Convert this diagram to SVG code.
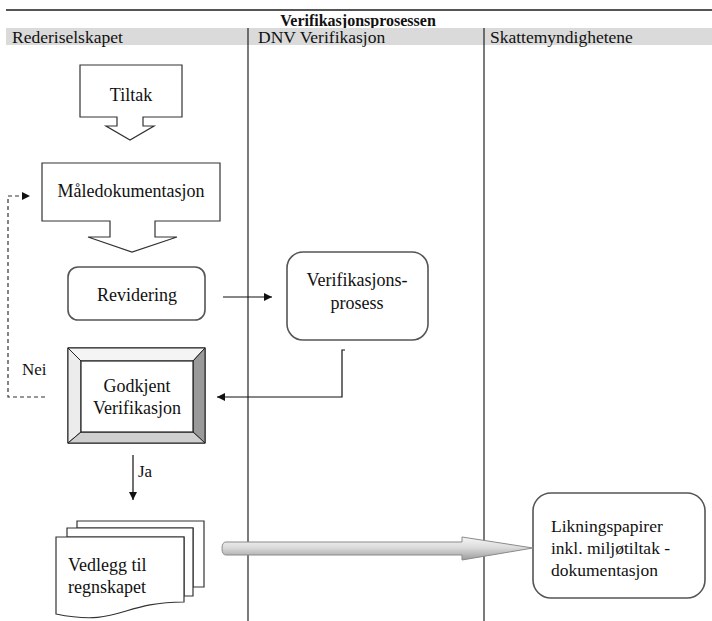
<svg xmlns="http://www.w3.org/2000/svg" width="712" height="621" viewBox="0 0 712 621">
<defs>
<style>
.t{font-family:"Liberation Serif","Times New Roman",serif;font-size:18px;fill:#111}
.h{font-family:"Liberation Serif","Times New Roman",serif;font-size:17.5px;fill:#111}
.box{fill:#fff;stroke:#333;stroke-width:1.2}
.rbox{fill:#fff;stroke:#555;stroke-width:1.6}
.ln{fill:none;stroke:#111;stroke-width:1.2}
.lane{stroke:#222;stroke-width:1.2}
</style>
<marker id="ah" viewBox="0 0 10 10" refX="10" refY="5" markerWidth="8" markerHeight="8" markerUnits="userSpaceOnUse" orient="auto">
<path d="M0,0 L10,5 L0,10 Z" fill="#111"/>
</marker>
<linearGradient id="gg" x1="0" y1="0" x2="0" y2="1">
<stop offset="0" stop-color="#f6f6f6"/>
<stop offset="0.45" stop-color="#dcdcdc"/>
<stop offset="1" stop-color="#9c9c9c"/>
</linearGradient>
</defs>
<rect width="712" height="621" fill="#fff"/>
<g id="header">
<line x1="6" y1="10" x2="712" y2="10" stroke="#555" stroke-width="2"/>
<text x="358" y="26" text-anchor="middle" class="h" style="font-weight:bold;font-size:16px">Verifikasjonsprosessen</text>
<rect x="6" y="28" width="706" height="17" fill="#dadada"/>
<text x="12" y="43" class="h">Rederiselskapet</text>
<text x="258" y="43" class="h">DNV Verifikasjon</text>
<text x="490" y="43" class="h">Skattemyndighetene</text>
<line x1="248" y1="28" x2="248" y2="621" class="lane"/>
<line x1="484" y1="28" x2="484" y2="621" class="lane"/>
</g>
<g id="tiltak">
<path class="box" d="M80,65 H182 V117 H143 V126 H154 L130,140 L106,126 H117 V117 H80 Z"/>
<text x="131" y="101" text-anchor="middle" class="t">Tiltak</text>
</g>
<g id="maaledokumentasjon">
<path class="box" d="M42,163 H220 V221 H155 V237 H177 L132,252 L88,237 H110 V221 H42 Z"/>
<text x="131" y="197" text-anchor="middle" class="t">Måledokumentasjon</text>
</g>
<g id="revidering">
<rect class="rbox" x="68" y="267" width="137" height="53" rx="10"/>
<text x="137" y="301" text-anchor="middle" class="t">Revidering</text>
</g>
<g id="verifikasjonsprosess">
<rect class="rbox" x="287" y="252" width="141" height="88" rx="16"/>
<text x="357" y="286" text-anchor="middle" class="t">Verifikasjons-</text>
<text x="357" y="309" text-anchor="middle" class="t">prosess</text>
</g>
<g id="godkjent">
<rect x="68" y="348" width="137" height="95" fill="#fff" stroke="#222" stroke-width="1.2"/>
<polygon points="68,348 205,348 193,361 81,361" fill="#f4f4f4" stroke="#222" stroke-width="1"/>
<polygon points="68,348 81,361 81,432 68,443" fill="#ececec" stroke="#222" stroke-width="1"/>
<polygon points="205,348 205,443 193,432 193,361" fill="#9a9a9a" stroke="#222" stroke-width="1"/>
<polygon points="68,443 205,443 193,432 81,432" fill="#cfcfcf" stroke="#222" stroke-width="1"/>
<rect x="81" y="361" width="112" height="71" fill="#fff" stroke="#222" stroke-width="1.2"/>
<text x="137" y="392" text-anchor="middle" class="t">Godkjent</text>
<text x="137" y="414" text-anchor="middle" class="t">Verifikasjon</text>
</g>
<g id="vedlegg">
<path class="box" d="M77,521 H204 V587 H193 V528 H77 Z"/>
<path class="box" d="M67,528 H193 V596 H184 V537 H67 Z"/>
<path class="box" d="M56,537 H184 V602 C120,602 120,627 56,614 Z"/>
<text x="68" y="571" class="t">Vedlegg til</text>
<text x="68" y="593" class="t">regnskapet</text>
</g>
<g id="likningspapirer">
<rect class="rbox" x="533" y="493" width="172" height="105" rx="18"/>
<text x="551" y="532" class="t" style="font-size:17.5px">Likningspapirer</text>
<text x="551" y="554" class="t" style="font-size:17.5px">inkl. miljøtiltak -</text>
<text x="551" y="576" class="t" style="font-size:17.5px">dokumentasjon</text>
</g>
<g id="connectors">
<path class="ln" d="M223,297 H272" marker-end="url(#ah)"/>
<path class="ln" d="M345,350 H342 V397 H217" marker-end="url(#ah)"/>
<path class="ln" d="M133,455 V500" marker-end="url(#ah)"/>
<path d="M45,397 H8 V196 H28" fill="none" stroke="#333" stroke-width="1.2" stroke-dasharray="4,3"/>
<path d="M22,192 L30,196 L22,200 Z" fill="#111"/>
<text x="22" y="375" class="t" style="font-size:17px">Nei</text>
<text x="138" y="477" class="t" style="font-size:17px">Ja</text>
<path d="M226,542 H462 V537 L533,548 L462,560 V555 H226 Q222,555 222,548.5 Q222,542 226,542 Z" fill="url(#gg)" stroke="#8a8a8a" stroke-width="1"/>
</g>
</svg>
